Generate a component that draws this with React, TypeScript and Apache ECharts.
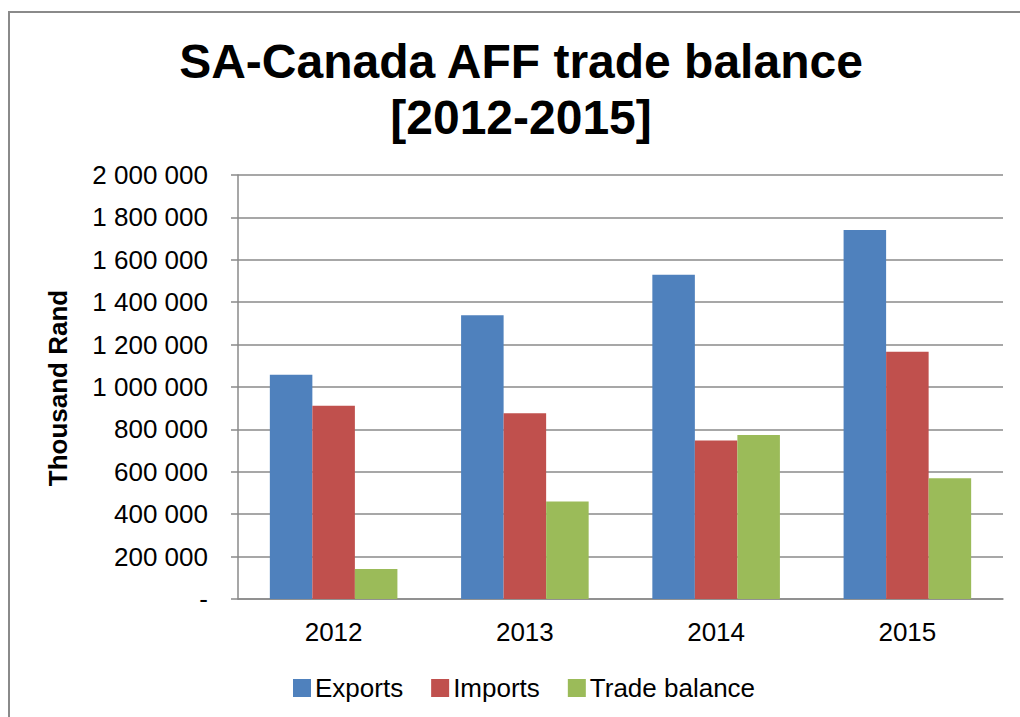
import React, { useEffect, useRef } from "react";
import * as echarts from "echarts";

const categories = ["2012", "2013", "2014", "2015"];
const exportsData = [1058000, 1338000, 1530000, 1740000];
const importsData = [912000, 876000, 748000, 1166000];
const balanceData = [142000, 460000, 773000, 570000];
const yTicks = [0, 200000, 400000, 600000, 800000, 1000000, 1200000, 1400000, 1600000, 1800000, 2000000];

const FONT = "'Liberation Sans', Arial, sans-serif";

function fmt(v: number): string {
  if (v === 0) return "-";
  return String(v).replace(/\B(?=(\d{3})+(?!\d))/g, " ");
}

export default function App() {
  const ref = useRef<HTMLDivElement>(null);
  useEffect(() => {
    if (!ref.current) return;
    const chart = echarts.init(ref.current, null, { renderer: "svg" });
    chart.setOption({
      animation: false,
      backgroundColor: "#ffffff",
      textStyle: { fontFamily: FONT },
      color: ["#4F81BD", "#C0504D", "#9BBB59"],
      graphic: [
        {
          type: "rect",
          shape: { x: 9, y: 12, width: 1040, height: 740 },
          style: { fill: "none", stroke: "#8a8a8a", lineWidth: 2 },
          silent: true,
        },
        {
          type: "text",
          x: 521,
          y: 61,
          style: {
            text: "SA-Canada AFF trade balance",
            font: "bold 48px " + FONT,
            fill: "#000",
            textAlign: "center",
            textVerticalAlign: "middle",
          },
        },
        {
          type: "text",
          x: 521,
          y: 117,
          style: {
            text: "[2012-2015]",
            font: "bold 48px " + FONT,
            fill: "#000",
            textAlign: "center",
            textVerticalAlign: "middle",
          },
        },
        {
          type: "text",
          x: 58,
          y: 388,
          rotation: Math.PI / 2,
          style: {
            text: "Thousand Rand",
            font: "bold 26px " + FONT,
            fill: "#000",
            textAlign: "center",
            textVerticalAlign: "middle",
          },
        },
      ],
      grid: { left: 238, right: 17, top: 175, bottom: 118, containLabel: false },
      legend: {
        left: 293,
        top: 675,
        padding: 0,
        itemWidth: 18,
        itemHeight: 18,
        itemGap: 28,
        icon: "rect",
        textStyle: { fontSize: 26, color: "#000", fontFamily: FONT, padding: [0, 0, 0, -1] },
        data: ["Exports", "Imports", "Trade balance"],
      },
      xAxis: {
        type: "category",
        data: categories,
        axisLine: { lineStyle: { color: "#8a8a8a", width: 1.5 } },
        axisTick: { show: false },
        axisLabel: { fontSize: 26, color: "#000", margin: 20, fontFamily: FONT },
      },
      yAxis: {
        type: "value",
        min: 0,
        max: 2000000,
        interval: 200000,
        axisLine: { show: true, lineStyle: { color: "#8a8a8a", width: 1.5 } },
        axisTick: { show: true, inside: false, length: 7, lineStyle: { color: "#8a8a8a", width: 1.5 } },
        splitLine: { show: true, lineStyle: { color: "#8a8a8a", width: 1.5 } },
        axisLabel: {
          fontSize: 26,
          color: "#000",
          margin: 30,
          fontFamily: FONT,
          formatter: (v: number) => (yTicks.includes(v) ? fmt(v) : ""),
        },
      },
      series: [
        { name: "Exports", type: "bar", data: exportsData, barGap: "0%", barCategoryGap: "33.3%" },
        { name: "Imports", type: "bar", data: importsData, barGap: "0%", barCategoryGap: "33.3%" },
        { name: "Trade balance", type: "bar", data: balanceData, barGap: "0%", barCategoryGap: "33.3%" },
      ],
    });
    return () => chart.dispose();
  }, []);
  return (
    <div
      ref={ref}
      style={{ position: "fixed", left: 0, top: 0, width: 1020, height: 717 }}
    />
  );
}
